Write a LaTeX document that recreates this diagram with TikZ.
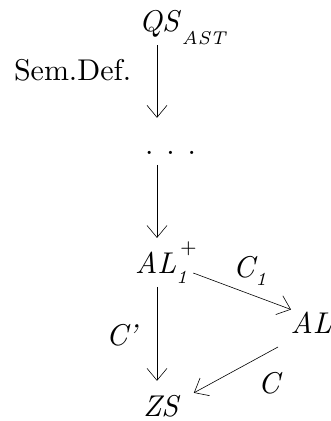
\documentclass[tikz,border=0pt]{standalone}
\usepackage{fontspec}
\setmainfont{lmroman10-regular.otf}[ItalicFont=lmroman10-italic.otf]
\newfontfamily\subitfont{lmroman7-italic.otf}
\newfontfamily\subrmfont{lmroman7-regular.otf}
\usetikzlibrary{arrows.meta,calc}
\newcommand{\lowsub}[2]{\raisebox{-#1}{\fontsize{18.5bp}{18.5bp}\subitfont #2}}
\newcommand{\highsup}[2]{\raisebox{#1}{\fontsize{19bp}{19bp}\subrmfont #2}}
\begin{document}
\begin{tikzpicture}[x=1bp,y=1bp,
  lbl/.style={inner sep=0pt,outer sep=0pt,anchor=base west,font=\fontsize{30bp}{36bp}\selectfont},
  arr/.style={line width=0.6bp,-{Straight Barb[length=12bp,width=20bp,line width=0.6bp]}}]
\useasboundingbox (0,0) rectangle (331,421);
\coordinate (ax) at (157,0);
\node[lbl] (qs) at (139,389) {\itshape QS\kern3bp\lowsub{13bp}{AST}};
\node[lbl] (sem) at (14,341) {Sem.Def.};
\node[lbl] (dots) at (145,267) {.\kern13bp.\kern13bp.};
\node[lbl] (al1) at (135,148) {\itshape AL\rlap{\lowsub{10bp}{1}}\kern4bp\highsup{20bp}{+}};
\node[lbl] (c1) at (233,144) {\itshape C\kern1bp\lowsub{8bp}{1}};
\node[lbl] (al) at (290.5,88) {\itshape AL};
\node[lbl] (cp) at (106,76) {\itshape C'};
\node[lbl] (zs) at (143,5) {\itshape ZS};
\node[lbl] (cl) at (258,28) {\itshape C};
\draw[arr, shorten >=33bp] (qs.south -| ax) -- (dots.north -| ax);
\draw[arr, shorten <=11bp, shorten >=3.3bp] (dots.south -| ax) -- (al1.north -| ax);
\draw[arr, shorten <=4bp, shorten >=14bp] (al1.south -| ax) -- (zs.north -| ax);
\draw[arr] ($(al1.base east)+(-3.5,0)$) -- ($(al.north west)+(0.5,2)$);
\draw[arr] ($(al.south west)+(-12.5,-14)$) -- ($(zs.north east)+(15.6,2)$);
\end{tikzpicture}
\end{document}
